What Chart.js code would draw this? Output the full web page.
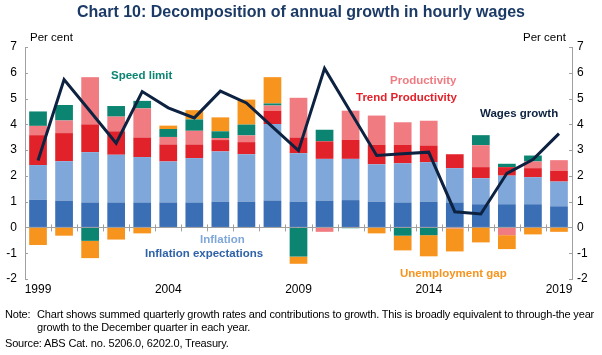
<!DOCTYPE html>
<html>
<head>
<meta charset="utf-8">
<script src="https://cdn.jsdelivr.net/npm/chart.js@4.4.1/dist/chart.umd.min.js"></script>
<style>
  html, body { margin: 0; padding: 0; background: #fff; }
  body { width: 602px; height: 355px; position: relative; overflow: hidden; font-family: "Liberation Sans", Arial, sans-serif; }
  #wrap { position: absolute; left: 0; top: 0; width: 602px; height: 355px; }
  .t { position: absolute; white-space: nowrap; line-height: 14px; }
  .title { left: 0; width: 602px; text-align: center; top: 3px; font-size: 16px; font-weight: bold; color: #1B3A66; line-height: 18px; }
  .unit { font-size: 11.5px; color: #000; top: 30px; }
  .lab { font-size: 11.5px; font-weight: bold; }
  .note { font-size: 11px; color: #000; letter-spacing: -0.17px; }
</style>
</head>
<body>
<div id="wrap"><canvas id="c" width="602" height="355"></canvas></div>

<div class="t title">Chart 10: Decomposition of annual growth in hourly wages</div>
<div class="t unit" style="left:30px;">Per cent</div>
<div class="t unit" style="left:523px;">Per cent</div>

<div class="t lab" style="left:111px; top:68px; color:#0B8572;">Speed limit</div>
<div class="t lab" style="left:390px; top:73px; color:#F07C82;">Productivity</div>
<div class="t lab" style="left:356px; top:90px; color:#E2222B;">Trend Productivity</div>
<div class="t lab" style="left:480px; top:106px; color:#0D2240;">Wages growth</div>
<div class="t lab" style="left:200px; top:232px; color:#7FA7D9;">Inflation</div>
<div class="t lab" style="left:145px; top:246px; color:#2F62A8;">Inflation expectations</div>
<div class="t lab" style="left:400px; top:266px; color:#F7941E;">Unemployment gap</div>

<div class="t note" style="left:5px; top:307px;">Note:</div>
<div class="t note" style="left:37px; top:307px;">Chart shows summed quarterly growth rates and contributions to growth. This is broadly equivalent to through-the year</div>
<div class="t note" style="left:37px; top:320px;">growth to the December quarter in each year.</div>
<div class="t note" style="left:5px; top:336px;">Source: ABS Cat. no. 5206.0, 6202.0, Treasury.</div>

<script>
// ---- Data ----
const years = ['1999','2000','2001','2002','2003','2004','2005','2006','2007','2008','2009','2010','2011','2012','2013','2014','2015','2016','2017','2018','2019'];
const tickYears = ['1999','2004','2009','2014','2019'];
const inflationExpectations = [1.07, 1.04, 0.97, 0.97, 0.97, 0.97, 0.97, 1.00, 1.00, 1.04, 1.00, 1.04, 1.06, 1.00, 0.97, 1.00, 0.97, 0.90, 0.90, 0.90, 0.82];
const inflation            = [1.35, 1.53, 1.95, 1.85, 1.76, 1.59, 1.72, 1.95, 1.84, 2.97, 1.88, 1.62, 1.60, 1.45, 1.52, 1.53, 1.33, 1.01, 1.11, 1.05, 0.96];
const trendProductivity    = [1.16, 1.09, 1.08, 0.91, 0.76, 0.66, 0.53, 0.44, 0.47, 0.52, 0.61, 0.68, 0.74, 0.76, 0.72, 0.65, 0.54, 0.43, 0.33, 0.35, 0.41];
const productivity         = [0.36, 0.49, 1.83, 0.57, 1.13, 0.29, 0.53, 0.08, 0.26, 0.20, 1.54, -0.17, 1.13, 1.13, 0.87, 0.96, -0.04, 0.85, -0.30, 0.26, 0.42];
const speedLimit           = [0.56, 0.60, -0.52, 0.41, 0.29, 0.31, 0.44, 0.26, 0.42, 0.08, -1.13, 0.45, -0.03, 0.00, -0.32, -0.30, 0.00, 0.39, 0.13, 0.23, 0.00];
const unemploymentGap      = [-0.68, -0.32, -0.67, -0.47, -0.23, 0.13, 0.36, 0.54, 0.97, 1.02, -0.28, 0.00, 0.00, -0.23, -0.57, -0.82, -0.89, -0.58, -0.54, -0.27, -0.17];
const wagesGrowth          = [2.60, 5.74, 4.51, 3.27, 5.27, 4.64, 4.25, 5.29, 4.83, 3.90, 2.98, 6.17, 4.48, 2.79, 2.86, 2.92, 0.61, 0.52, 2.10, 2.63, 3.64];
const yTicks = { min: -2, max: 7, step: 1 };

// ---- Styles ----
const FONT = '"Liberation Sans", Arial, sans-serif';
const AXIS_GREY = '#A0A0A0';
Chart.defaults.font.family = FONT;
Chart.defaults.font.size = 12;
Chart.defaults.color = '#000';

const barDs = (label, data, color) => ({
  type: 'bar', label, data, backgroundColor: color, borderWidth: 0,
  stack: 's', order: 1, barPercentage: 0.68, categoryPercentage: 1.0, yAxisID: 'y'
});

const axisMarks = {
  id: 'axisMarks',
  beforeDatasetsDraw(chart) {
    const { ctx, chartArea, scales } = chart;
    const x = scales.x, y = scales.y;
    const y0 = y.getPixelForValue(0);
    ctx.save();
    ctx.strokeStyle = AXIS_GREY;
    ctx.lineWidth = 1;
    ctx.beginPath();
    ctx.moveTo(chartArea.left, Math.round(y0) + 0.5);
    ctx.lineTo(chartArea.right, Math.round(y0) + 0.5);
    ctx.stroke();
    for (let i = 0; i < years.length - 1; i++) {
      const xb = Math.round((x.getPixelForValue(i) + x.getPixelForValue(i + 1)) / 2) + 0.5;
      ctx.beginPath();
      ctx.moveTo(xb, y0 - 3);
      ctx.lineTo(xb, y0 + 4);
      ctx.stroke();
    }
    for (let v = yTicks.min; v <= yTicks.max; v += yTicks.step) {
      const py = Math.round(y.getPixelForValue(v)) + 0.5;
      ctx.beginPath();
      ctx.moveTo(chartArea.left, py); ctx.lineTo(chartArea.left + 3, py);
      ctx.moveTo(chartArea.right, py); ctx.lineTo(chartArea.right - 3, py);
      ctx.stroke();
    }
    ctx.restore();
  }
};

new Chart(document.getElementById('c'), {
  data: {
    labels: years,
    datasets: [
      barDs('Inflation expectations', inflationExpectations, '#3A6EB5'),
      barDs('Inflation', inflation, '#7FA7D9'),
      barDs('Trend Productivity', trendProductivity, '#E2222B'),
      barDs('Productivity', productivity, '#F07C82'),
      barDs('Speed limit', speedLimit, '#0B8572'),
      barDs('Unemployment gap', unemploymentGap, '#F7941E'),
      { type: 'line', label: 'Wages growth', data: wagesGrowth, borderColor: '#0D2240', borderWidth: 3,
        pointRadius: 0, tension: 0, fill: false, order: 0, yAxisID: 'y', borderJoinStyle: 'miter' }
    ]
  },
  options: {
    responsive: false,
    animation: false,
    devicePixelRatio: 1,
    layout: { padding: { top: 47, bottom: 54, left: 0, right: 0 } },
    plugins: { legend: { display: false }, tooltip: { enabled: false }, title: { display: false } },
    scales: {
      x: {
        type: 'category', offset: true, stacked: true, position: 'bottom',
        grid: { display: false, drawTicks: false }, border: { display: false },
        ticks: {
          autoSkip: false, maxRotation: 0, minRotation: 0, padding: 3,
          font: { size: 12 }, color: '#000',
          callback: function (v, i) { const l = this.getLabelForValue(v); return tickYears.includes(l) ? l : ''; }
        },
        afterFit: (s) => { s.height = 22; }
      },
      y: {
        position: 'left', stacked: true, min: yTicks.min, max: yTicks.max,
        ticks: { stepSize: yTicks.step, padding: 8, font: { size: 12 }, color: '#000' },
        grid: { drawOnChartArea: false, drawTicks: false },
        border: { display: true, color: AXIS_GREY },
        afterFit: (s) => { s.width = 25; }
      },
      y2: {
        position: 'right', min: yTicks.min, max: yTicks.max,
        ticks: { stepSize: yTicks.step, padding: 5, font: { size: 12 }, color: '#000' },
        grid: { drawOnChartArea: false, drawTicks: false },
        border: { display: true, color: AXIS_GREY },
        afterFit: (s) => { s.width = 30; }
      }
    }
  },
  plugins: [axisMarks]
});
</script>
</body>
</html>
